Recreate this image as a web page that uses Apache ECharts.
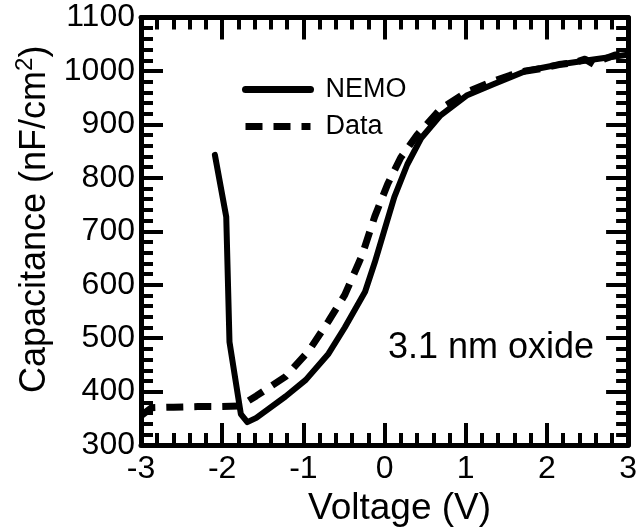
<!DOCTYPE html>
<html>
<head>
<meta charset="utf-8">
<script src="https://cdn.jsdelivr.net/npm/echarts@6/dist/echarts.min.js"></script>
<style>html,body{margin:0;padding:0;background:#fff}#c{width:640px;height:532px}</style>
</head>
<body>
<div id="c"></div>
<script>
var FONT = '"Liberation Sans", Arial, Helvetica, sans-serif';
var xTicks = [-3, -2, -1, 0, 1, 2, 3];
var yTicks = [300, 400, 500, 600, 700, 800, 900, 1000, 1100];

var nemoV = [-2.09, -1.95, -1.91, -1.77, -1.69, -1.58, -1.22, -0.97, -0.69, -0.49, -0.24, -0.12, 0.00, 0.12, 0.28, 0.45, 0.69, 1.01, 1.34, 1.74, 2.15, 2.55, 2.97, 3.00];
var nemoC = [843, 727, 493, 358, 343, 351, 391, 422, 471, 520, 587, 642, 703, 764, 825, 874, 917, 954, 975, 1000, 1012, 1021, 1030, 1030];

var dataV = [-3.00, -2.87, -2.60, -2.30, -2.10, -1.78, -1.58, -1.22, -0.93, -0.69, -0.49, -0.28, -0.12, 0.04, 0.20, 0.40, 0.69, 1.01, 1.34, 1.55, 1.74, 1.95, 2.15, 2.35, 2.47, 2.58, 2.70, 2.84, 3.00];
var dataC = [355, 370, 371, 372, 372, 373, 392, 428, 477, 532, 581, 654, 728, 789, 838, 880, 929, 960, 981, 992, 1000, 1005, 1012, 1016, 1022, 1012, 1022, 1030, 1028];

function pairs(xs, ys) { return xs.map(function (x, i) { return [x, ys[i]]; }); }

var chart = echarts.init(document.getElementById('c'), null, { renderer: 'canvas' });

var frameLine = { show: true, onZero: false, lineStyle: { color: '#000', width: 5 } };
var majorTick = { show: true, inside: true, length: 22, lineStyle: { color: '#000', width: 4 } };
var minorTick = { show: true, splitNumber: 5, length: 12, lineStyle: { color: '#000', width: 4 } };

chart.setOption({
  animation: false,
  backgroundColor: '#fff',
  grid: { left: 141, right: 7.5, top: 17.5, bottom: 80.5, containLabel: false },
  legend: {
    left: 237, top: 71, orient: 'vertical', itemWidth: 65, itemHeight: 14, itemGap: 10,
    itemStyle: { opacity: 0 },
    lineStyle: { width: 7 },
    textStyle: { fontFamily: FONT, fontSize: 27, color: '#000', padding: [0, 0, 0, 10] },
    data: ['NEMO', 'Data']
  },
  xAxis: [{
    type: 'value', min: -3, max: 3, interval: 1, position: 'bottom',
    name: 'Voltage (V)', nameLocation: 'middle', nameGap: 37,
    nameTextStyle: { fontFamily: FONT, fontSize: 37, color: '#000', padding: [0, 0, 0, 30] },
    axisLine: frameLine, axisTick: majorTick, minorTick: minorTick,
    splitLine: { show: false },
    axisLabel: { fontFamily: FONT, fontSize: 32, color: '#000', margin: 8,
      formatter: function (v) { return xTicks.indexOf(v) >= 0 ? String(v) : ''; } }
  }, {
    type: 'value', min: -3, max: 3, interval: 1, position: 'top',
    axisLine: frameLine, axisTick: majorTick, minorTick: minorTick,
    splitLine: { show: false }, axisLabel: { show: false }
  }],
  yAxis: [{
    type: 'value', min: 300, max: 1100, interval: 100, position: 'left',
    name: '{a|Capacitance (nF/cm}{b|2}{a|)}', nameLocation: 'middle', nameGap: 81,
    nameTextStyle: { color: '#000', padding: [0, 0, 0, 24], rich: {
      a: { fontFamily: FONT, fontSize: 36, color: '#000', lineHeight: 44 },
      b: { fontFamily: FONT, fontSize: 24, color: '#000', lineHeight: 24, verticalAlign: 'top' }
    } },
    axisLine: frameLine, axisTick: majorTick, minorTick: minorTick,
    splitLine: { show: false },
    axisLabel: { fontFamily: FONT, fontSize: 32, color: '#000', margin: 6,
      formatter: function (v) { return yTicks.indexOf(v) >= 0 ? String(v) : ''; } }
  }, {
    type: 'value', min: 300, max: 1100, interval: 100, position: 'right',
    axisLine: frameLine, axisTick: majorTick, minorTick: minorTick,
    splitLine: { show: false }, axisLabel: { show: false }
  }],
  graphic: [{
    type: 'text', left: 388, top: 330,
    style: { text: '3.1 nm oxide', fontFamily: FONT, fontSize: 36, fill: '#000' }
  }],
  series: [{
    name: 'NEMO', type: 'line', xAxisIndex: 0, yAxisIndex: 0,
    data: pairs(nemoV, nemoC), symbol: 'none', smooth: false, clip: true,
    lineStyle: { color: '#000', width: 6, cap: 'round', join: 'round' },
    itemStyle: { color: '#000' }
  }, {
    name: 'Data', type: 'line', xAxisIndex: 0, yAxisIndex: 0,
    data: pairs(dataV, dataC), symbol: 'none', smooth: false, clip: true,
    lineStyle: { color: '#000', width: 7, type: [17, 11], cap: 'butt', join: 'round' },
    itemStyle: { color: '#000' }
  }]
});
</script>
</body>
</html>
